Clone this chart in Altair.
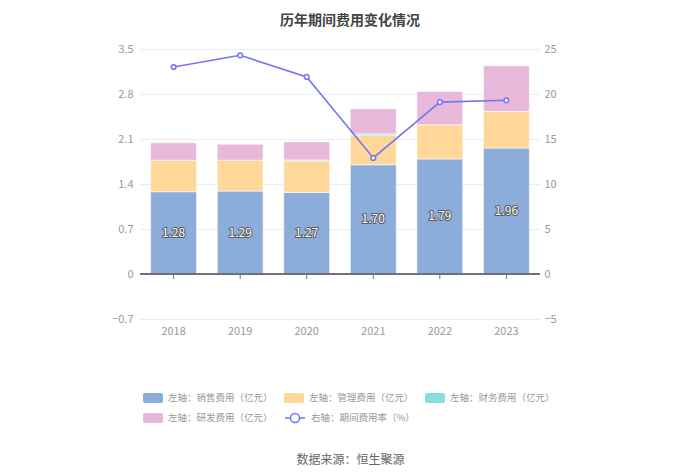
import altair as alt
import pandas as pd

years = ["2018", "2019", "2020", "2021", "2022", "2023"]
sales = [1.28, 1.29, 1.27, 1.70, 1.79, 1.96]
admin = [0.49, 0.48, 0.49, 0.46, 0.53, 0.57]
finance = [-0.01, -0.02, 0.015, 0.02, -0.01, -0.005]
rnd = [0.27, 0.25, 0.28, 0.39, 0.52, 0.71]
rate = [23.0, 24.3, 21.9, 12.9, 19.1, 19.3]

series_names = ["左轴：销售费用（亿元）", "左轴：管理费用（亿元）", "左轴：财务费用（亿元）", "左轴：研发费用（亿元）"]
series_colors = ["#8CACDA", "#FFD899", "#88DDDD", "#E7B8D9"]
line_name = "右轴：期间费用率（%）"
line_color = "#7376F0"

FONT = "Noto Sans CJK SC"

rows = []
for i, y in enumerate(years):
    for k, (name, vals) in enumerate(zip(series_names, [sales, admin, finance, rnd])):
        rows.append({"year": y, "series": name, "value": vals[i], "idx": k})
df_bars = pd.DataFrame(rows)
df_year = pd.DataFrame({"year": years, "sales": sales, "rate": rate, "zero": [0] * len(years), "line": [line_name] * len(years)})

x_enc = alt.X("year:N", sort=years, title="数据来源：恒生聚源",
              scale=alt.Scale(paddingInner=0.31, paddingOuter=0.16),
              axis=alt.Axis(labelAngle=0, domain=False, ticks=False, labelColor="#999999",
                            labelFontSize=11, labelFont=FONT, labelPadding=6,
                            titleFont=FONT, titleFontSize=12, titleFontWeight="normal",
                            titleColor="#666666", titlePadding=118, titleX=210))

left_scale = alt.Scale(domain=[-0.7, 3.5], nice=False, zero=False)
left_axis = alt.Axis(values=[-0.7, 0, 0.7, 1.4, 2.1, 2.8, 3.5], format=".1~f",
                     domain=False, ticks=False, labelColor="#999999", labelFontSize=11,
                     labelFont=FONT, labelPadding=7, gridColor="#E8ECF4", gridWidth=1)

rect_path = ("M-0.8,-0.5h1.6a0.2,0.2 0 0 1 0.2,0.2v0.6a0.2,0.2 0 0 1 -0.2,0.2h-1.6"
             "a0.2,0.2 0 0 1 -0.2,-0.2v-0.6a0.2,0.2 0 0 1 0.2,-0.2z")
line_path = ("M-1,0L-0.45,0M0.45,0L1,0M0.45,0A0.45,0.45 0 1 1 -0.45,0A0.45,0.45 0 1 1 0.45,0")

LEG_FS = 9.5

bars = alt.Chart(df_bars).mark_bar(stroke="white", strokeWidth=0.6).encode(
    x=x_enc,
    y=alt.Y("value:Q", stack="zero", title=None, scale=left_scale, axis=left_axis),
    color=alt.Color("series:N", sort=series_names,
                    scale=alt.Scale(domain=series_names, range=series_colors),
                    legend=alt.Legend(title=None, orient="none", legendX=3, legendY=339,
                                      direction="horizontal", columns=3, columnPadding=11,
                                      rowPadding=5, symbolType=rect_path, symbolSize=400,
                                      symbolStrokeWidth=0, labelColor="#999999",
                                      labelFontSize=LEG_FS, labelFont=FONT, labelOffset=5,
                                      gridAlign="all")),
    order=alt.Order("idx:Q"),
)

zero_rule = alt.Chart(df_year).mark_rule(color="#6E7079", strokeWidth=1).encode(
    y=alt.Y("zero:Q", title=None, scale=left_scale, axis=left_axis)
)
ticks = alt.Chart(df_year).mark_rule(color="#6E7079", strokeWidth=1, y2Offset=5).encode(
    x=alt.X("year:N", sort=years),
    y=alt.Y("zero:Q", title=None, scale=left_scale, axis=left_axis),
    y2="zero:Q",
)

label_base = alt.Chart(df_year).transform_calculate(mid="datum.sales / 2")
labels_bg = label_base.mark_text(font=FONT, fontSize=12, color="#5A5A5A", stroke="#5A5A5A",
                                 strokeWidth=2, strokeJoin="round").encode(
    x=alt.X("year:N", sort=years),
    y=alt.Y("mid:Q", title=None, scale=left_scale, axis=left_axis),
    text=alt.Text("sales:Q", format=".2f"),
)
labels_fg = label_base.mark_text(font=FONT, fontSize=12, color="white").encode(
    x=alt.X("year:N", sort=years),
    y=alt.Y("mid:Q", title=None, scale=left_scale, axis=left_axis),
    text=alt.Text("sales:Q", format=".2f"),
)

left = alt.layer(bars, zero_rule, ticks, labels_bg, labels_fg)

line = alt.Chart(df_year).mark_line(
    strokeWidth=1.6,
    point=alt.OverlayMarkDef(filled=True, fill="white", strokeWidth=1.5, size=22),
).encode(
    x=alt.X("year:N", sort=years),
    y=alt.Y("rate:Q", title=None,
            scale=alt.Scale(domain=[-5, 25], nice=False, zero=False),
            axis=alt.Axis(orient="right", values=[-5, 0, 5, 10, 15, 20, 25], domain=False,
                          ticks=False, grid=False, labelColor="#999999", labelFontSize=11,
                          labelFont=FONT, labelPadding=4)),
    stroke=alt.Stroke("line:N", scale=alt.Scale(domain=[line_name], range=[line_color]),
                      legend=alt.Legend(title=None, orient="none", legendX=144, legendY=358,
                                        symbolType=line_path, symbolSize=400,
                                        symbolStrokeWidth=1.5, symbolFillColor="white",
                                        labelColor="#999999", labelFontSize=LEG_FS,
                                        labelFont=FONT, labelOffset=5)),
)

chart = alt.layer(left, line).resolve_scale(y="independent", color="independent", stroke="independent").properties(
    width=400, height=270,
    autosize=alt.AutoSizeParams(type="none"),
    padding={"left": 132, "top": 41, "right": 150, "bottom": 150},
    title=alt.TitleParams("历年期间费用变化情况", anchor="middle", frame="group",
                          font=FONT, fontSize=14, fontWeight="bold", color="#444444",
                          dx=10, offset=15),
).configure_view(stroke=None)

chart.save("out.html", embed_options={"renderer": "svg", "actions": False})
